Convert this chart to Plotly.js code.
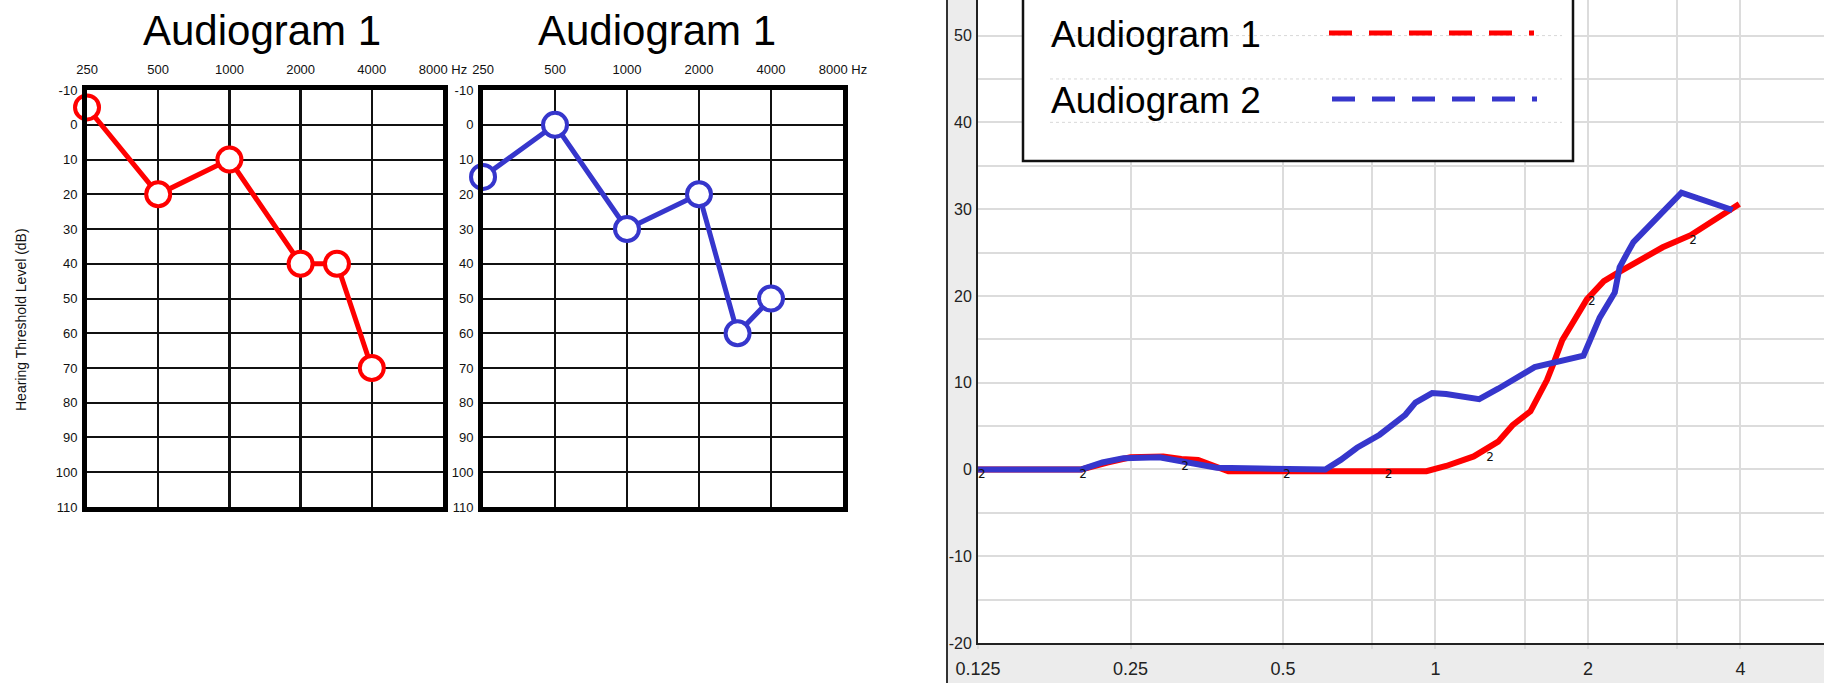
<!DOCTYPE html>
<html>
<head>
<meta charset="utf-8">
<script src="https://cdn.plot.ly/plotly-3.0.1.min.js"></script>
<style>
  html, body { margin: 0; padding: 0; background: #ffffff; }
  #chart { width: 1824px; height: 683px; }
</style>
</head>
<body>
<div id="chart"></div>
<script>
// ---------------- data ----------------
// audiogram panels (frequency in Hz, hearing level in dB)
const audioTickVals = [250, 500, 1000, 2000, 4000, 8000];
const audioTickText = ['250', '500', '1000', '2000', '4000', '8000 Hz'];
const levelTickVals = [-10, 0, 10, 20, 30, 40, 50, 60, 70, 80, 90, 100, 110];
const levelTickText = ['-10', '0', '10', '20', '30', '40', '50', '60', '70', '80', '90', '100', '110'];

const leftFreq  = [250, 500, 1000, 2000, 2850, 4000];
const leftLevel = [-5, 20, 10, 40, 40, 70];

const midFreq  = [250, 500, 1000, 2000, 2900, 4000];
const midLevel = [15, 0, 30, 20, 60, 50];

// comparison panel (frequency in kHz, level in dB)
const cmpTickVals  = [0.125, 0.25, 0.5, 1, 2, 4];
const cmpTickText  = ['0.125', '0.25', '0.5', '1', '2', '4'];
const cmpMinorVals = [0.75, 1.5, 3];
const cmpLevelVals = [-20, -10, 0, 10, 20, 30, 40, 50];
const cmpLevelText = ['-20', '-10', '0', '10', '20', '30', '40', '50'];

const redFreq  = [0.125, 0.2, 0.225, 0.25, 0.29, 0.315, 0.34, 0.365, 0.39, 0.5, 0.7, 0.96, 1.05, 1.19, 1.33, 1.42, 1.54, 1.6, 1.66, 1.71, 1.78, 1.88, 1.99, 2.15, 2.28, 2.81, 3.19, 3.98];
const redLevel = [0, 0, 0.8, 1.4, 1.5, 1.2, 1.1, 0.4, -0.2, -0.2, -0.2, -0.2, 0.4, 1.5, 3.2, 5.1, 6.7, 8.5, 10.3, 12.2, 14.9, 17.2, 19.6, 21.7, 22.6, 25.6, 27.0, 30.6];

const blueFreq  = [0.125, 0.2, 0.22, 0.242, 0.285, 0.332, 0.37, 0.45, 0.606, 0.65, 0.70, 0.776, 0.872, 0.913, 0.985, 1.05, 1.22, 1.33, 1.45, 1.57, 1.96, 2.11, 2.26, 2.31, 2.39, 2.46, 3.06, 3.86];
const blueLevel = [0, 0, 0.8, 1.3, 1.4, 0.8, 0.2, 0.1, 0, 1.1, 2.5, 4.0, 6.3, 7.7, 8.8, 8.7, 8.1, 9.3, 10.5, 11.8, 13.1, 17.5, 20.4, 23.3, 24.9, 26.2, 31.9, 29.9];

const markFreq  = [0.125, 0.198, 0.315, 0.5, 0.794, 1.26, 2.0, 3.17];
const markLevel = [0, 0, 1, 0, 0, 2, 20, 27];
const markText  = ['2', '2', '2', '2', '2', '2', '2', '2'];

const seriesNames = ['Audiogram 1', 'Audiogram 2'];
const panelTitles = ['Audiogram 1', 'Audiogram 1'];
const yTitle = 'Hearing Threshold Level (dB)';

// ---------------- helpers (layout only) ----------------
const W = 1824, H = 683;
const px = x => x / W;
const py = y => 1 - y / H;
const RED = '#ff0000';
const BLUE = '#3636cc';
const FONT = 'Liberation Sans, Arial, sans-serif';
const EPS = 1e-4;

function audioX(d0, d1, anchor) {
  return {
    type: 'log', domain: [d0, d1], anchor: anchor, side: 'top',
    range: [Math.log10(250) - EPS, Math.log10(8000) + EPS],
    tickmode: 'array', tickvals: audioTickVals, ticktext: audioTickText,
    showgrid: true, gridcolor: '#111', gridwidth: 2.5,
    showline: true, linecolor: '#000', linewidth: 5, mirror: true,
    zeroline: false, ticks: '', ticklabelstandoff: 6,
    tickfont: { family: FONT, size: 13, color: '#111' }
  };
}
function audioY(anchor) {
  return {
    domain: [py(507), py(90)], anchor: anchor,
    range: [110.01, -10.01], tickmode: 'array', tickvals: levelTickVals, ticktext: levelTickText,
    showgrid: true, gridcolor: '#111', gridwidth: 2,
    showline: true, linecolor: '#000', linewidth: 5, mirror: true,
    zeroline: false, ticks: '', ticklabelstandoff: 2,
    tickfont: { family: FONT, size: 13, color: '#111' }
  };
}

const traces = [
  { x: leftFreq, y: leftLevel, xaxis: 'x', yaxis: 'y', mode: 'lines+markers',
    line: { color: RED, width: 5 }, cliponaxis: false,
    marker: { symbol: 'circle', size: 24, color: '#ffffff', line: { color: RED, width: 4 } },
    showlegend: false },
  { x: midFreq, y: midLevel, xaxis: 'x2', yaxis: 'y2', mode: 'lines+markers',
    line: { color: BLUE, width: 5 }, cliponaxis: false,
    marker: { symbol: 'circle', size: 24, color: '#ffffff', line: { color: BLUE, width: 4 } },
    showlegend: false },
  { x: redFreq, y: redLevel, xaxis: 'x3', yaxis: 'y3', mode: 'lines', name: seriesNames[0],
    line: { color: RED, width: 6 }, showlegend: false },
  { x: blueFreq, y: blueLevel, xaxis: 'x3', yaxis: 'y3', mode: 'lines', name: seriesNames[1],
    line: { color: BLUE, width: 6 }, showlegend: false },
  { x: markFreq, y: markLevel, xaxis: 'x3', yaxis: 'y3', mode: 'text', text: markText,
    textposition: 'bottom right', textfont: { family: 'DejaVu Sans, sans-serif', size: 12, color: '#111' },
    showlegend: false, cliponaxis: false }
];

const shapes = [
  // gray frame of the comparison chart
  { type: 'rect', xref: 'paper', yref: 'paper', x0: px(947), x1: px(978), y0: 0, y1: 1,
    fillcolor: '#ececec', line: { width: 0 }, layer: 'below' },
  { type: 'rect', xref: 'paper', yref: 'paper', x0: px(947), x1: 1, y0: 0, y1: py(643),
    fillcolor: '#ececec', line: { width: 0 }, layer: 'below' },
  { type: 'line', xref: 'paper', yref: 'paper', x0: px(947), x1: px(947), y0: 0, y1: 1,
    line: { color: '#333', width: 2 }, layer: 'below' },
  // legend box
  { type: 'rect', xref: 'paper', yref: 'paper', x0: px(1023), x1: px(1573), y0: py(161), y1: py(-6),
    fillcolor: '#ffffff', line: { color: '#111', width: 2.5 }, layer: 'above' },
  { type: 'line', xref: 'paper', yref: 'y3', x0: px(1050), x1: px(1562), y0: 50, y1: 50,
    line: { color: '#d8d8d8', width: 1, dash: 'dot' }, layer: 'above' },
  { type: 'line', xref: 'paper', yref: 'y3', x0: px(1050), x1: px(1562), y0: 45, y1: 45,
    line: { color: '#d8d8d8', width: 1, dash: 'dot' }, layer: 'above' },
  { type: 'line', xref: 'paper', yref: 'y3', x0: px(1050), x1: px(1562), y0: 40, y1: 40,
    line: { color: '#d8d8d8', width: 1, dash: 'dot' }, layer: 'above' },
  { type: 'line', xref: 'paper', yref: 'paper', x0: px(1329), x1: px(1534), y0: py(33), y1: py(33),
    line: { color: RED, width: 5, dash: '23px,17px' }, layer: 'above' },
  { type: 'line', xref: 'paper', yref: 'paper', x0: px(1332), x1: px(1537), y0: py(99), y1: py(99),
    line: { color: BLUE, width: 5, dash: '23px,17px' }, layer: 'above' }
];

const annotations = [
  { text: panelTitles[0], xref: 'paper', yref: 'paper', x: px(262), y: py(31), xanchor: 'center', yanchor: 'middle',
    showarrow: false, font: { family: FONT, size: 42, color: '#000' } },
  { text: panelTitles[1], xref: 'paper', yref: 'paper', x: px(657), y: py(31), xanchor: 'center', yanchor: 'middle',
    showarrow: false, font: { family: FONT, size: 42, color: '#000' } },
  { text: yTitle, xref: 'paper', yref: 'paper', x: px(21), y: py(320), xanchor: 'center', yanchor: 'middle',
    textangle: -90, showarrow: false, font: { family: FONT, size: 14, color: '#111' } },
  { text: seriesNames[0], xref: 'paper', yref: 'paper', x: px(1049), y: py(34), xanchor: 'left', yanchor: 'middle',
    showarrow: false, font: { family: FONT, size: 37, color: '#000' } },
  { text: seriesNames[1], xref: 'paper', yref: 'paper', x: px(1049), y: py(100), xanchor: 'left', yanchor: 'middle',
    showarrow: false, font: { family: FONT, size: 37, color: '#000' } }
];

const layout = {
  width: W, height: H,
  margin: { l: 0, r: 0, t: 0, b: 0, pad: 0 },
  paper_bgcolor: '#ffffff', plot_bgcolor: '#ffffff',
  showlegend: false, hovermode: false,
  xaxis: audioX(px(87), px(443), 'y'),
  yaxis: audioY('x'),
  xaxis2: audioX(px(483), px(843), 'y2'),
  yaxis2: audioY('x2'),
  xaxis3: {
    type: 'log', domain: [px(978), 1], anchor: 'y3',
    range: [Math.log10(0.125) - EPS, Math.log10(5.85)],
    tickmode: 'array', tickvals: cmpTickVals, ticktext: cmpTickText,
    showgrid: true, gridcolor: '#dcdcdc', gridwidth: 2,
    minor: { tickmode: 'array', tickvals: cmpMinorVals, showgrid: true, gridcolor: '#dcdcdc', gridwidth: 2,
             ticks: 'outside', ticklen: 4, tickcolor: '#dcdcdc', tickwidth: 2 },
    showline: true, linecolor: '#222', linewidth: 2,
    ticks: 'outside', ticklen: 4, tickcolor: '#dcdcdc', tickwidth: 2, ticklabelstandoff: 4,
    zeroline: false,
    tickfont: { family: FONT, size: 18, color: '#222' }
  },
  yaxis3: {
    domain: [py(643), 1], anchor: 'x3',
    range: [-20, 54.1], tickmode: 'array', tickvals: cmpLevelVals, ticktext: cmpLevelText,
    showgrid: true, gridcolor: '#dcdcdc', gridwidth: 2,
    minor: { tickmode: 'linear', tick0: 0, dtick: 5, showgrid: true, gridcolor: '#dcdcdc', gridwidth: 2 },
    showline: true, linecolor: '#222', linewidth: 2, ticks: '', zeroline: false,
    ticklabelstandoff: 1,
    tickfont: { family: FONT, size: 16, color: '#222' }
  },
  shapes: shapes,
  annotations: annotations
};

Plotly.newPlot('chart', traces, layout, { staticPlot: true, displayModeBar: false });
</script>
</body>
</html>
